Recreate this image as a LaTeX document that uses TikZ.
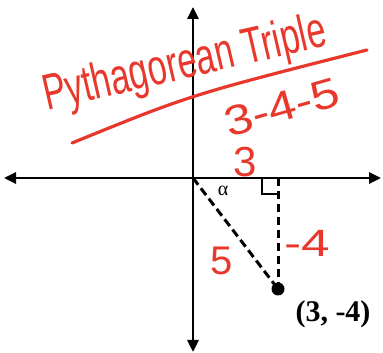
\documentclass[tikz,border=0pt]{standalone}
\usepackage{fontspec}
\usepackage{graphicx}
\setmainfont{Liberation Serif}
\newfontfamily\markerfont{Liberation Sans}
\usetikzlibrary{arrows.meta,positioning,calc}
\definecolor{inkred}{HTML}{E8372B}

\begin{document}
\begin{tikzpicture}[x=1pt,y=1pt,
  axis/.style={line width=2.8pt,{Triangle[length=12pt,width=11pt]}-{Triangle[length=12pt,width=11pt]}},
  leg/.style={line width=3pt,dash pattern=on 8.5pt off 4.5pt},
  dot/.style={circle,fill=black,inner sep=0pt,minimum size=13pt},
  ink/.style={text=inkred,font=\markerfont\fontsize{#1}{#1}\selectfont,inner sep=0pt},
  inkline/.style={draw=inkred,line width=3.2pt,line cap=round}
]
\useasboundingbox (0,0) rectangle (383,353);
% axes
\coordinate (O) at (193,175);
\coordinate (xl) at (4,175);
\coordinate (xr) at (381,175);
\coordinate (yt) at (193,346);
\coordinate (yb) at (193,1);
\draw[axis] (xl) -- (xr);
\draw[axis] (yb) -- (yt);
% triangle
\coordinate (F) at (278,175);
\node[dot] (P) at (278,64) {};
\draw[leg] (O) -- (P.center);
\draw[leg] (F) -- (P.center);
\coordinate (sqa) at (262,175);
\coordinate (sqb) at (278,159);
\draw[line width=2.4pt] (sqa) |- (sqb);
\node[font=\fontsize{20}{20}\selectfont,inner sep=0pt] (alpha) at (223,162) {α};
\node[font=\fontsize{30}{30}\selectfont\bfseries,inner sep=0pt] (pt) at (333,39) {(3, -4)};
% notes
\node[ink=44,rotate=13,anchor=base] (title) at (188,275) {\scalebox{0.78}[1.15]{Pythagorean Triple}};
\coordinate (ul) at (72,210);
\coordinate (ur) at (367,303);
\draw[inkline] (ul) .. controls (190,258) .. (ur);
\node[ink=42,rotate=16] (triple) at (282,246) {\scalebox{1.2}[1]{3-4-5}};
\node[ink=42] (adj) at (245,191) {3};
\node[ink=40] (hyp) at (222,92) {5};
\node[ink=38] (opp) at (307,110) {\scalebox{1.35}[1]{-4}};
\end{tikzpicture}
\end{document}
